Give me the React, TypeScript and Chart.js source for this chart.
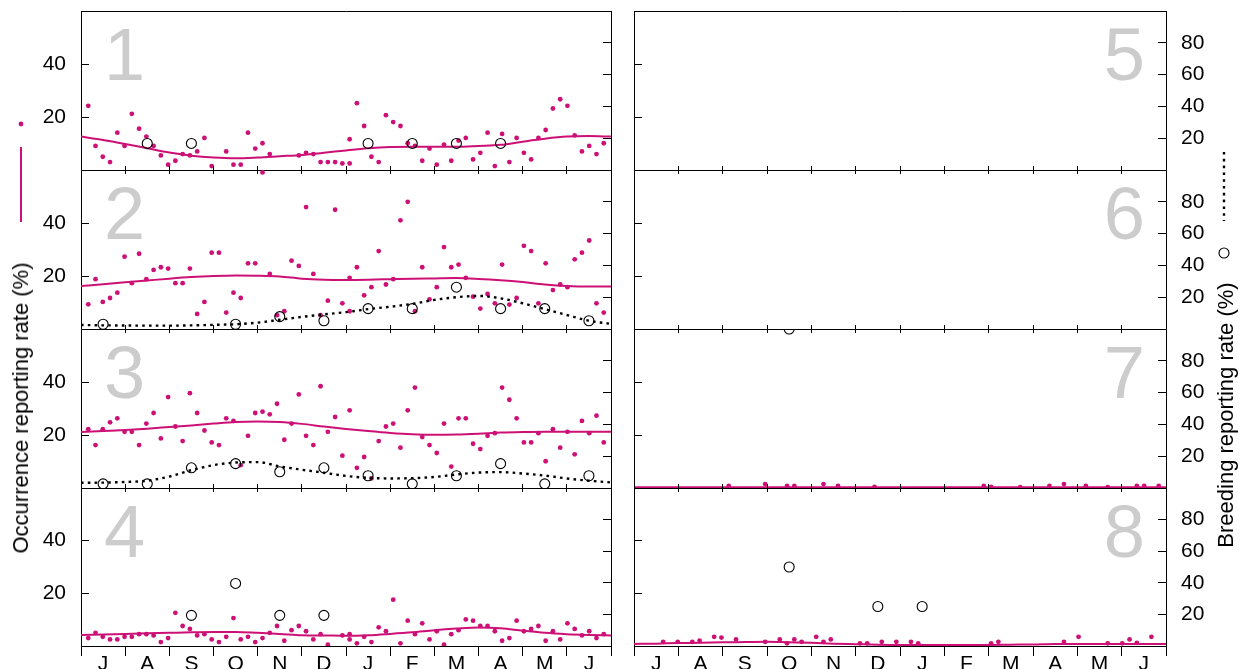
import React, { useEffect, useRef } from 'react';
import { Chart, registerables } from 'chart.js';

Chart.register(...registerables);

const FONT = "'Liberation Sans', Arial, Helvetica, sans-serif";
const MAGENTA = '#CD1076';
const DIGIT_GREY = '#CCCCCC';

// ---------- categories / ticks ----------
const MONTH_LABELS = ['J', 'A', 'S', 'O', 'N', 'D', 'J', 'F', 'M', 'A', 'M', 'J'];
const OCC_TICKS = [20, 40];
const BR_TICKS = [20, 40, 60, 80];
// day (from 1 July) of each five-day period; the year-end period appears twice
const PENTAD_DAYS = [
  5, 10, 15, 20, 25, 30, 35, 40, 45, 50,
  55, 60, 65, 70, 75, 80, 85, 90, 95, 100,
  105, 110, 115, 120, 125, 130, 135, 140, 145, 150,
  155, 160, 165, 170, 175, 180, 185, 185,
  190, 195, 200, 205, 210, 215, 220, 225, 230, 235,
  240, 245, 250, 255, 260, 265, 270, 275, 280, 285,
  290, 295, 300, 305, 310, 315, 320, 325, 330, 335,
  340, 345, 350, 355, 360, 365,
];

// ---------- occurrence reporting rate (%) per five-day period ----------
const OCC_P1 = [
  24.2, 9.1, 5.0, 3.0, 14.1, 9.1, 21.2, 15.6, 12.6, 9.1,
  5.5, 2.0, 3.5, 6.0, 5.5, 7.0, 12.1, 1.5, null, 7.0,
  2.0, 2.0, 14.1, 8.1, 10.1, 6.0, null, null, null, 5.5,
  6.5, 6.0, 3.0, 3.0, 3.0, 2.5, 2.5, 11.6,
  25.2, 16.6, 5.0, 3.0, 20.7, 18.1, 16.6, 10.1, 9.1, 3.5,
  8.1, 2.0, 9.6, 3.5, 11.1, 12.1, 4.0, 6.5, 14.1, 1.5,
  13.6, 3.0, 12.1, 6.5, 4.0, 12.1, 15.1, 23.2, 26.7, 24.2,
  13.1, 7.0, 9.1, 6.0, 10.1, null,
];
const OCC_P2 = [
  9.3, 18.8, 10.2, 11.7, 13.7, 27.3, 17.3, 28.4, 18.8, 22.3,
  23.3, 22.8, 17.3, 17.3, 22.8, 5.7, 10.2, 28.8, 28.8, 6.2,
  13.7, 11.7, 24.8, 24.8, 59.1, 20.8, 5.2, 6.7, 25.8, 23.8,
  46.0, 20.8, 5.2, 10.7, 45.0, 9.7, 6.7, 19.3,
  23.3, 12.7, 15.8, 29.4, 16.8, 18.8, 41.0, 48.0, 6.7, 23.3,
  11.2, 15.8, 30.9, 23.3, 24.3, 19.3, 12.2, 7.7, 13.2, 9.7,
  24.3, 9.2, 11.7, 31.4, 29.4, 9.7, 24.8, 14.7, 16.8, 15.8,
  26.3, 28.8, 33.4, 9.7, 6.2, null,
];
const OCC_P3 = [
  22.2, 16.2, 22.2, 24.8, 26.3, 21.2, 21.2, 16.2, 24.3, 28.3,
  18.7, 34.3, 23.2, 17.7, 35.8, 28.3, 21.7, 17.2, 16.2, 26.3,
  25.3, 8.6, 19.7, 28.3, 28.8, 27.8, 31.8, 18.2, 24.3, 35.3,
  19.7, 16.2, 38.4, 21.2, 26.8, 12.2, 29.3, null,
  7.6, 11.7, 3.6, 17.7, 23.2, 24.3, 15.2, 29.3, 37.9, 19.2,
  16.2, 13.2, 24.3, 8.1, 26.3, 26.3, 16.7, 14.7, 19.7, 20.7,
  37.9, 33.3, 26.3, 17.2, 17.2, 20.7, 10.1, 22.2, 15.2, 21.2,
  12.7, 25.3, 20.7, 27.3, 17.2, null,
];
const OCC_P4 = [
  3.0, 5.0, 3.5, 2.5, 2.5, 3.5, 3.5, 4.5, 4.5, 4.0,
  1.5, 3.0, 12.6, 7.6, 6.5, 4.0, 4.5, 2.5, 1.5, 3.5,
  10.6, 2.5, 3.5, 1.5, 3.0, 5.0, 7.6, 2.0, 6.0, 7.6,
  5.6, 2.5, 4.5, 0.5, null, 4.0, 4.5, 2.5,
  1.0, 3.5, 1.5, 7.1, 5.6, 17.6, 1.0, 9.6, 4.5, 8.6,
  2.5, 5.6, 0.5, 4.5, 6.0, 10.1, 9.6, 7.6, 7.6, 5.6,
  2.0, 3.0, 9.6, 5.6, 6.5, 7.6, 2.0, 5.6, 2.5, 8.6,
  6.5, 4.0, 5.6, 3.0, 4.5, null,
];
const OCC_P5: (number | null)[] = [];
const OCC_P6: (number | null)[] = [];
const OCC_P7 = [
  null, null, null, null, null, null, null, null, null, null,
  null, null, 0.8, null, null, null, null, 1.5, null, null,
  0.8, 0.8, null, null, null, 1.5, null, 0.8, null, null,
  null, null, 0.4, null, null, null, null, null,
  null, null, null, null, null, null, null, null, null, null,
  0.8, 0.4, null, null, null, 0.3, null, null, null, 0.8,
  null, 1.5, null, null, 0.8, null, null, 0.3, null, null,
  null, 0.8, 0.8, null, 0.8, null,
];
const OCC_P8 = [
  null, null, null, 1.6, null, 1.6, null, 1.6, 2.0, null,
  3.5, 3.2, null, 2.5, null, null, null, 1.6, null, 2.5,
  1.0, 2.5, 1.6, null, 3.5, 1.6, 2.5, null, null, null,
  1.0, 1.0, null, 1.6, null, 1.6, null, null,
  1.6, 1.0, null, null, null, null, null, null, null, null,
  null, 1.0, 1.6, null, null, null, null, null, null, null,
  null, 1.6, null, 3.5, null, null, null, 1.0, null, 1.0,
  2.5, 1.2, null, 3.5, null, null,
];

// ---------- smoothed occurrence (solid) at half-month steps ----------
const CURVE_OCC_P1 = [12.6, 11.3, 9.8, 8.2, 6.6, 5.4, 4.7, 4.4, 4.7, 5.2, 5.7, 6.5, 7.4, 8.2, 8.7, 8.8, 8.8, 8.8, 9.1, 9.5, 10.7, 11.8, 12.6, 12.8, 12.6];
const CURVE_OCC_P2 = [16.2, 16.9, 17.6, 18.3, 19.0, 19.6, 20.0, 20.2, 20.1, 19.8, 19.0, 18.6, 18.5, 18.6, 18.8, 19.0, 19.1, 19.2, 18.9, 18.4, 17.7, 16.8, 16.2, 16.0, 16.0];
const CURVE_OCC_P3 = [21.1, 21.5, 21.9, 22.4, 23.0, 23.6, 24.3, 24.9, 25.1, 24.9, 24.2, 23.2, 22.3, 21.5, 20.8, 20.3, 20.1, 20.2, 20.5, 20.9, 21.1, 21.2, 21.2, 21.2, 21.2];
const CURVE_OCC_P4 = [4.2, 4.4, 4.6, 4.8, 5.0, 5.2, 5.3, 5.3, 5.0, 4.6, 4.1, 4.0, 3.9, 4.1, 4.6, 5.2, 6.0, 6.6, 7.0, 6.7, 5.8, 5.0, 4.5, 4.2, 4.0];
const CURVE_OCC_P7 = [0.3, 0.3, 0.3, 0.3, 0.3, 0.3, 0.3, 0.3, 0.3, 0.3, 0.3, 0.3, 0.3, 0.3, 0.3, 0.3, 0.3, 0.3, 0.3, 0.3, 0.3, 0.3, 0.3, 0.3, 0.3];
const CURVE_OCC_P8 = [0.8, 0.9, 1.1, 1.2, 1.4, 1.5, 1.6, 1.4, 1.2, 0.9, 0.7, 0.5, 0.4, 0.4, 0.4, 0.4, 0.4, 0.5, 0.6, 0.8, 0.8, 0.8, 0.8, 0.8, 0.8];

// ---------- smoothed breeding (dotted) at half-month steps ----------
const CURVE_BR_P2 = [2.5, 2.3, 2.2, 2.1, 2.1, 2.3, 2.6, 3.0, 4.0, 5.8, 7.6, 9.2, 10.6, 12.5, 14.0, 15.8, 18.3, 20.0, 20.8, 19.3, 16.2, 12.5, 8.8, 5.2, 3.2];
const CURVE_BR_P3 = [3.3, 3.4, 3.8, 4.6, 7.2, 11.2, 14.4, 16.0, 16.3, 13.6, 11.5, 9.6, 7.6, 6.4, 6.0, 6.2, 6.9, 8.5, 9.7, 10.0, 9.1, 7.8, 6.0, 4.6, 3.5];

// ---------- breeding reporting rate (%) per month ----------
const BR_P1 = [null, 16.7, 16.7, null, null, null, 16.7, 16.7, 16.7, 16.7, null, null];
const BR_P2 = [3.0, null, null, 3.0, 7.8, 5.2, 12.8, 12.8, 26.3, 12.8, 12.8, 5.2];
const BR_P3 = [2.6, 2.6, 12.7, 15.3, 10.2, 12.7, 7.7, 2.6, 7.7, 15.3, 2.6, 7.7];
const BR_P4 = [null, null, 19.4, 39.6, 19.4, 19.4, null, null, null, null, null, null];
const BR_P5: (number | null)[] = [];
const BR_P6: (number | null)[] = [];
const BR_P7 = [null, null, null, 100, null, null, null, null, null, null, null, null];
const BR_P8 = [null, null, null, 50, null, 25, 25, null, null, null, null, null];

type Vals = (number | null)[];
interface Panel {
  id: number; row: number; col: number;
  occ: Vals; occCurve: Vals | null; br: Vals; brCurve: Vals | null;
}

const PANELS: Panel[] = [
  { id: 1, row: 0, col: 0, occ: OCC_P1, occCurve: CURVE_OCC_P1, br: BR_P1, brCurve: null },
  { id: 2, row: 1, col: 0, occ: OCC_P2, occCurve: CURVE_OCC_P2, br: BR_P2, brCurve: CURVE_BR_P2 },
  { id: 3, row: 2, col: 0, occ: OCC_P3, occCurve: CURVE_OCC_P3, br: BR_P3, brCurve: CURVE_BR_P3 },
  { id: 4, row: 3, col: 0, occ: OCC_P4, occCurve: CURVE_OCC_P4, br: BR_P4, brCurve: null },
  { id: 5, row: 0, col: 1, occ: OCC_P5, occCurve: null, br: BR_P5, brCurve: null },
  { id: 6, row: 1, col: 1, occ: OCC_P6, occCurve: null, br: BR_P6, brCurve: null },
  { id: 7, row: 2, col: 1, occ: OCC_P7, occCurve: CURVE_OCC_P7, br: BR_P7, brCurve: null },
  { id: 8, row: 3, col: 1, occ: OCC_P8, occCurve: CURVE_OCC_P8, br: BR_P8, brCurve: null },
];

// ---------- layout ----------
const PAGE_W = 1244;
const PAGE_H = 669;
const COL_W = 622;
const ROW_TOPS = [11, 170, 329, 488];
const ROW_BOTTOMS = [170, 329, 488, 646];
const TOP_PAD = 6;
const GAP_PAD = 6;
const DAYS = 365;
const MONTH_TICKS = Array.from({ length: 13 }, (_, m) => (m * DAYS) / 12);
const MONTH_MIDS = MONTH_LABELS.map((_, m) => ((m + 0.5) * DAYS) / 12);
const CURVE_DAYS = Array.from({ length: 25 }, (_, k) => (k * DAYS) / 24);

const toPoints = (xs: number[], ys: Vals) =>
  ys.map((y, i) => ({ x: xs[i], y })).filter((p) => p.y !== null && p.y !== undefined);

const zeroPadding = (s: any) => {
  s.paddingTop = 0; s.paddingBottom = 0; s.paddingLeft = 0; s.paddingRight = 0;
};

const panelNumberPlugin = {
  id: 'panelNumber',
  beforeDatasetsDraw(chart: any, _args: any, opts: any) {
    const { ctx, chartArea } = chart;
    ctx.save();
    ctx.font = `74px ${FONT}`;
    ctx.fillStyle = DIGIT_GREY;
    ctx.textBaseline = 'alphabetic';
    if (opts.align === 'left') {
      ctx.textAlign = 'left';
      ctx.fillText(opts.text, chartArea.left + 23, chartArea.top + 69);
    } else {
      ctx.textAlign = 'right';
      ctx.fillText(opts.text, chartArea.right - 21, chartArea.top + 69);
    }
    ctx.restore();
  },
};

function PanelChart({ panel }: { panel: Panel }) {
  const ref = useRef<HTMLCanvasElement>(null);
  const { row, col } = panel;
  const isBottom = row === 3;
  const top = ROW_TOPS[row] - TOP_PAD;
  const bottomSpace = isBottom ? PAGE_H - ROW_BOTTOMS[row] : GAP_PAD;
  const height = ROW_BOTTOMS[row] - ROW_TOPS[row] + TOP_PAD + bottomSpace;
  const leftW = col === 0 ? 81 : 12;
  const rightW = col === 0 ? 11 : 78;
  const monthPx = (COL_W - leftW - rightW) / 12;

  useEffect(() => {
    if (!ref.current) return;
    const tickFont = { family: FONT, size: 21 };
    const datasets: any[] = [];
    if (panel.occCurve) {
      datasets.push({
        type: 'line', data: toPoints(CURVE_DAYS, panel.occCurve), yAxisID: 'yOcc', xAxisID: 'x',
        borderColor: MAGENTA, borderWidth: 2, pointRadius: 0, fill: false,
        tension: 0.4, cubicInterpolationMode: 'monotone', order: 3,
      });
    }
    if (panel.brCurve) {
      datasets.push({
        type: 'line', data: toPoints(CURVE_DAYS, panel.brCurve), yAxisID: 'yBr', xAxisID: 'x',
        borderColor: '#000', borderWidth: 2.4, borderDash: [2.6, 4.2], borderCapStyle: 'butt',
        pointRadius: 0, fill: false, tension: 0.4, cubicInterpolationMode: 'monotone', order: 2,
      });
    }
    datasets.push({
      type: 'scatter', data: toPoints(PENTAD_DAYS, panel.occ), yAxisID: 'yOcc', xAxisID: 'x',
      pointRadius: 2.4, pointBackgroundColor: MAGENTA, pointBorderWidth: 0, backgroundColor: MAGENTA, order: 4,
    });
    datasets.push({
      type: 'scatter', data: toPoints(MONTH_MIDS, panel.br), yAxisID: 'yBr', xAxisID: 'x',
      pointRadius: 5, pointBorderColor: '#000', pointBorderWidth: 1.1,
      pointBackgroundColor: 'rgba(0,0,0,0)', order: 1,
    });

    const monthTicks = (s: any) => { s.ticks = MONTH_TICKS.map((v) => ({ value: v })); };
    const chart = new Chart(ref.current, {
      type: 'scatter',
      data: { datasets },
      plugins: [panelNumberPlugin],
      options: {
        animation: false,
        responsive: false,
        devicePixelRatio: 1,
        events: [],
        layout: { padding: 0, autoPadding: false },
        plugins: {
          legend: { display: false },
          tooltip: { enabled: false },
          panelNumber: { text: String(panel.id), align: col === 0 ? 'left' : 'right' },
        } as any,
        scales: {
          x: {
            type: 'linear', position: 'bottom', min: 0, max: DAYS,
            afterBuildTicks: monthTicks,
            grid: { display: true, drawOnChartArea: false, drawTicks: true, tickLength: isBottom ? 10 : 4, color: '#000', lineWidth: 1 },
            border: { display: true, color: '#000', width: 1 },
            ticks: {
              display: isBottom, autoSkip: false, maxRotation: 0, minRotation: 0,
              labelOffset: monthPx / 2, padding: -4, color: '#000', font: tickFont,
              callback: (_v: any, i: number) => MONTH_LABELS[i] ?? '',
            },
            afterFit: (s: any) => { s.height = bottomSpace; zeroPadding(s); },
          },
          xTop: {
            type: 'linear', position: 'top', min: 0, max: DAYS,
            afterBuildTicks: monthTicks,
            grid: { display: true, drawOnChartArea: false, drawTicks: row > 0, tickLength: 4, color: '#000', lineWidth: 1 },
            border: { display: true, color: '#000', width: 1 },
            ticks: { display: false },
            afterFit: (s: any) => { s.height = TOP_PAD; zeroPadding(s); },
          },
          yOcc: {
            type: 'linear', position: 'left', min: 0, max: 60,
            afterBuildTicks: (s: any) => { s.ticks = OCC_TICKS.map((v) => ({ value: v })); },
            grid: { display: true, drawOnChartArea: false, drawTicks: true, tickLength: -8, color: '#000', lineWidth: 1 },
            border: { display: true, color: '#000', width: 1 },
            ticks: { display: col === 0, padding: 23, color: '#000', font: tickFont },
            afterFit: (s: any) => { s.width = leftW; zeroPadding(s); },
          },
          yBr: {
            type: 'linear', position: 'right', min: 0, max: 100,
            afterBuildTicks: (s: any) => { s.ticks = BR_TICKS.map((v) => ({ value: v })); },
            grid: { display: true, drawOnChartArea: false, drawTicks: true, tickLength: -8, color: '#000', lineWidth: 1 },
            border: { display: true, color: '#000', width: 1 },
            ticks: { display: col === 1, padding: 23, color: '#000', font: tickFont },
            afterFit: (s: any) => { s.width = rightW; zeroPadding(s); },
          },
        } as any,
      },
    } as any);
    return () => chart.destroy();
  }, []);

  return (
    <canvas
      ref={ref}
      width={COL_W}
      height={height}
      style={{ position: 'absolute', left: col * COL_W, top, width: COL_W, height }}
    />
  );
}

const titleStyle = (cx: number, cy: number): React.CSSProperties => ({
  position: 'absolute', left: cx, top: cy,
  transform: 'translate(-50%, -50%) rotate(-90deg)',
  fontFamily: FONT, fontSize: 22, lineHeight: 1, color: '#000', whiteSpace: 'nowrap',
});

export default function App() {
  return (
    <div style={{ position: 'absolute', left: 0, top: 0, width: PAGE_W, height: PAGE_H, background: '#fff', overflow: 'hidden' }}>
      {PANELS.map((p) => <PanelChart key={p.id} panel={p} />)}
      <div style={titleStyle(20.5, 408)}>Occurrence reporting rate (%)</div>
      <div style={titleStyle(1226, 415)}>Breeding reporting rate (%)</div>
      <svg width={PAGE_W} height={PAGE_H} style={{ position: 'absolute', left: 0, top: 0, pointerEvents: 'none' }}>
        <circle cx={21} cy={124} r={2.4} fill={MAGENTA} />
        <line x1={21} y1={147} x2={21} y2={222} stroke={MAGENTA} strokeWidth={2} />
        <line x1={1224} y1={152} x2={1224} y2={221} stroke="#000" strokeWidth={2.4} strokeDasharray="2.6 4.2" />
        <circle cx={1224} cy={253} r={5} fill="none" stroke="#000" strokeWidth={1.1} />
      </svg>
    </div>
  );
}
